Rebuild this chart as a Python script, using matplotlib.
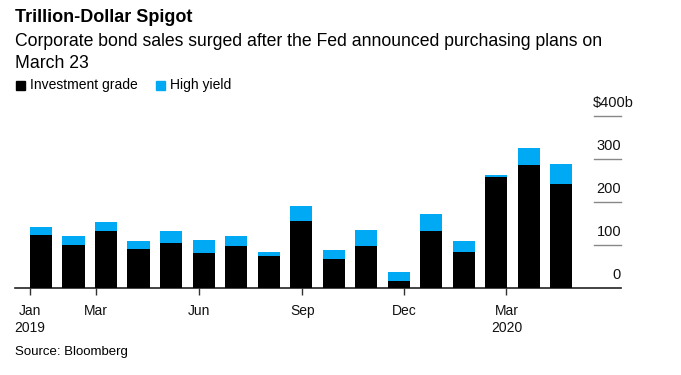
import datetime as dt
import matplotlib.pyplot as plt
from matplotlib.patches import Rectangle
from matplotlib.transforms import blended_transform_factory

plt.rcParams['font.family'] = ['Liberation Sans', 'DejaVu Sans']

# Monthly corporate bond sales, $ billions (Jan 2019 - May 2020)
months = ['Jan 2019', 'Feb 2019', 'Mar 2019', 'Apr 2019', 'May 2019', 'Jun 2019',
          'Jul 2019', 'Aug 2019', 'Sep 2019', 'Oct 2019', 'Nov 2019', 'Dec 2019',
          'Jan 2020', 'Feb 2020', 'Mar 2020', 'Apr 2020', 'May 2020']
investment_grade = [124, 101, 132, 91, 106, 83, 99, 74, 157, 68, 99, 18, 134, 85, 258, 287, 243]
high_yield = [18, 21, 21, 18, 26, 28, 23, 10, 34, 20, 36, 21, 38, 24, 6, 38, 45]

tick_dates = [dt.date(2019, 1, 1), dt.date(2019, 3, 1), dt.date(2019, 6, 1),
              dt.date(2019, 9, 1), dt.date(2019, 12, 1), dt.date(2020, 3, 1)]
tick_labels = ['Jan\n2019', 'Mar', 'Jun', 'Sep', 'Dec', 'Mar\n2020']
y_ticks = [0, 100, 200, 300, 400]
y_labels = ['0', '100', '200', '300', '$400b']

BLUE = '#00a9f4'

fig = plt.figure(figsize=(6.81, 3.75), dpi=100)
ax = fig.add_axes([15 / 681, 1 - 288.3 / 375, (621 - 15) / 681, (288.3 - 116) / 375])

x = list(range(len(months)))
ax.bar(x, investment_grade, width=0.685, align='edge', color='black', zorder=3)
ax.bar(x, high_yield, bottom=investment_grade, width=0.685, align='edge',
       color=BLUE, zorder=3)

ax.set_xlim(-0.46, 18.18)
ax.set_ylim(0, 400)

# month ticks follow a date scale (about 29 days per bar slot)
start = dt.date(2019, 1, 1)
tick_pos = [(d - start).days / 29.0 for d in tick_dates]
ax.set_xticks(tick_pos)
ax.set_xticklabels(tick_labels, fontsize=10, color='#111111', linespacing=1.35)
ax.tick_params(axis='x', length=5, width=1, color='#333333', pad=6)
ax.set_yticks([])

for s in ['top', 'right', 'left']:
    ax.spines[s].set_visible(False)
ax.spines['bottom'].set_color('#222222')
ax.spines['bottom'].set_linewidth(1.2)

# short gridline stubs and labels at the right
trans = blended_transform_factory(ax.transAxes, ax.transData)
x0 = (594 - 15) / (621 - 15)
for v, lab in zip(y_ticks, y_labels):
    if v > 0:
        ax.plot([x0, 1], [v, v], transform=trans, color='#888888', lw=1, clip_on=False)
    xr = 1.0 if v < 400 else 1.0 + 13 / 606
    ax.text(xr, v + 30, lab, transform=trans, ha='right', va='center', fontsize=10.5,
            color='#111111')

# title, subtitle, legend, source
fig.text(15 / 681, 1 - 17 / 375, 'Trillion-Dollar Spigot', fontsize=13,
         fontweight='bold', va='center', ha='left')
fig.text(15 / 681, 1 - 42 / 375,
         'Corporate bond sales surged after the Fed announced purchasing plans on',
         fontsize=12.7, va='center', ha='left')
fig.text(15 / 681, 1 - 64 / 375, 'March 23', fontsize=12.7, va='center', ha='left')

ly = 1 - 85 / 375
fig.patches.append(Rectangle((16 / 681, ly - 4.5 / 375), 9 / 681, 9 / 375,
                             transform=fig.transFigure, color='black'))
fig.text(30 / 681, ly, 'Investment grade', fontsize=10, va='center', ha='left')
fig.patches.append(Rectangle((156 / 681, ly - 4.5 / 375), 9 / 681, 9 / 375,
                             transform=fig.transFigure, color=BLUE))
fig.text(170 / 681, ly, 'High yield', fontsize=10, va='center', ha='left')

fig.text(15 / 681, 1 - 352 / 375, 'Source: Bloomberg', fontsize=9.5, va='center', ha='left')

fig.savefig('out.png', dpi=100)
